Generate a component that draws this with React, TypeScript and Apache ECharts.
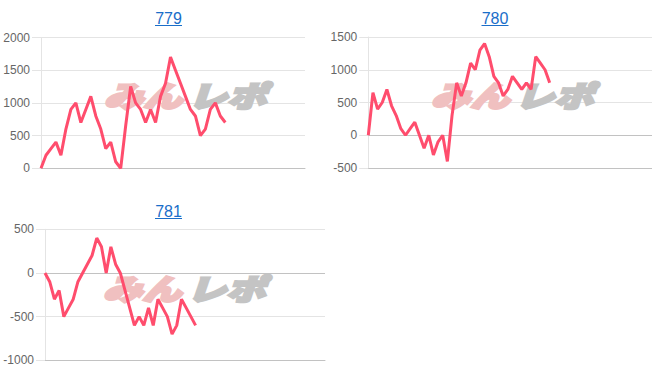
import React, { useEffect, useRef } from "react";
import * as echarts from "echarts";

const TITLES = ["779", "780", "781"];
const VALUES_779 = [0, 200, 300, 400, 200, 600, 900, 1000, 700, 900, 1100, 800, 600, 300, 400, 100, 0, 650, 1250, 1000, 900, 700, 900, 700, 1100, 1300, 1700, 1500, 1300, 1100, 900, 800, 500, 600, 900, 1000, 800, 700];
const VALUES_780 = [0, 650, 400, 500, 700, 450, 300, 100, 0, 100, 200, 0, -200, 0, -300, -100, 0, -400, 300, 800, 600, 800, 1100, 1000, 1300, 1400, 1200, 900, 800, 600, 700, 900, 800, 700, 800, 700, 1200, 1100, 1000, 800];
const VALUES_781 = [0, -100, -300, -200, -500, -400, -300, -100, 0, 100, 200, 400, 300, 0, 300, 100, 0, -200, -400, -600, -500, -600, -400, -600, -300, -400, -500, -700, -600, -300, -400, -500, -600];
const Y_MIN = [0, -500, -1000];
const Y_MAX = [2000, 1500, 500];
const Y_STEP = 500;
const X_MAX = [53, 61, 59.5];
const WATERMARK = ["みん", "レポ"];

const SERIES = [VALUES_779, VALUES_780, VALUES_781];

const GRIDS = [
  { left: 41, top: 37.5, width: 264, height: 130.8 },
  { left: 368.3, top: 37, width: 284, height: 131 },
  { left: 45, top: 229.3, width: 280, height: 131 },
];
const TITLE_POS = [
  { x: 168.5, y: 18, uy: 25.5 },
  { x: 495, y: 18, uy: 25.5 },
  { x: 168.5, y: 211, uy: 218.5 },
];
const WM_POS = [
  { x: 104, y: 94 },
  { x: 431, y: 94 },
  { x: 103, y: 287 },
];

const FONT = 'Arial, "Liberation Sans", sans-serif';
const LINE_COLOR = "#ff4d6d";
const LINK_COLOR = "#1a6ec9";
const WM_PINK = "#f0c0c0";
const WM_GRAY = "#c4c4c4";

export default function App() {
  const ref = useRef<HTMLDivElement>(null);
  useEffect(() => {
    if (!ref.current) return;
    const chart = echarts.init(ref.current, undefined, { renderer: "svg" });
    const graphic: any[] = [];
    TITLES.forEach((t, i) => {
      const p = TITLE_POS[i];
      graphic.push({
        type: "text",
        x: p.x,
        y: p.y,
        z: 10,
        style: {
          text: t,
          fill: LINK_COLOR,
          font: `16px ${FONT}`,
          textAlign: "center",
          textVerticalAlign: "middle",
        },
      });
      graphic.push({
        type: "line",
        z: 10,
        shape: { x1: p.x - 13.5, y1: p.uy, x2: p.x + 13.5, y2: p.uy },
        style: { stroke: LINK_COLOR, lineWidth: 1 },
      });
      const w = WM_POS[i];
      graphic.push({
        type: "text",
        x: w.x,
        y: w.y,
        z: 1,
        scaleX: 1.35,
        style: {
          text: WATERMARK[0],
          fill: WM_PINK,
          stroke: WM_PINK,
          lineWidth: 2.5,
          font: `italic 900 29px "Noto Sans CJK JP"`,
          textAlign: "left",
          textVerticalAlign: "middle",
        },
      });
      graphic.push({
        type: "text",
        x: w.x + 84,
        y: w.y,
        z: 1,
        scaleX: 1.35,
        style: {
          text: WATERMARK[1],
          fill: WM_GRAY,
          stroke: WM_GRAY,
          lineWidth: 2.5,
          font: `italic 900 29px "Noto Sans CJK JP"`,
          textAlign: "left",
          textVerticalAlign: "middle",
        },
      });
    });

    const option: any = {
      animation: false,
      grid: GRIDS.map((g) => ({ ...g, containLabel: false })),
      xAxis: GRIDS.map((_, i) => ({
        type: "value",
        gridIndex: i,
        min: 0,
        max: X_MAX[i],
        axisLine: { show: true, onZero: false, lineStyle: { color: "#c2c2c2", width: 1 } },
        axisTick: { show: false },
        axisLabel: { show: false },
        splitLine: { show: false },
      })),
      yAxis: GRIDS.map((_, i) => ({
        type: "value",
        gridIndex: i,
        min: Y_MIN[i],
        max: Y_MAX[i],
        interval: Y_STEP,
        axisLine: { show: true, lineStyle: { color: "#e4e4e4" } },
        axisTick: { show: true, length: 9, lineStyle: { color: "#e4e4e4" } },
        axisLabel: {
          color: "#666",
          fontSize: 12,
          fontFamily: FONT,
          margin: 11,
          formatter: (v: number) => String(v),
        },
        splitLine: { show: true, lineStyle: { color: "#e4e4e4" } },
      })),
      series: SERIES.map((vals, i) => ({
        type: "line",
        xAxisIndex: i,
        yAxisIndex: i,
        data: vals.map((v, k) => [k, v]),
        showSymbol: false,
        symbol: "none",
        z: 5,
        lineStyle: { color: LINE_COLOR, width: 3 },
        markLine:
          Y_MIN[i] < 0
            ? {
                silent: true,
                symbol: "none",
                label: { show: false },
                lineStyle: { color: "#c2c2c2", width: 1, type: "solid" },
                data: [{ yAxis: 0 }],
              }
            : undefined,
      })),
      graphic,
    };
    chart.setOption(option);
    return () => chart.dispose();
  }, []);
  return (
    <div
      ref={ref}
      style={{ position: "fixed", left: 0, top: 0, width: 652, height: 382, background: "#fff" }}
    />
  );
}
